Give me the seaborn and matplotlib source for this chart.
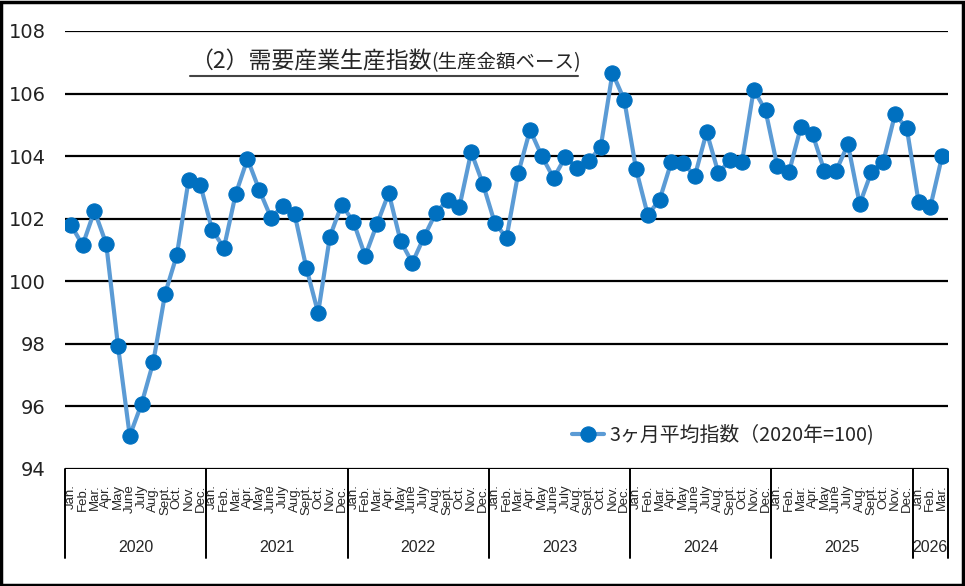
import numpy as np
import pandas as pd
import matplotlib.pyplot as plt
import seaborn as sns
from matplotlib.lines import Line2D
from matplotlib.patches import Rectangle
import matplotlib.transforms as mtransforms

months = ["Jan.", "Feb.", "Mar.", "Apr.", "May", "June", "July", "Aug.",
          "Sept.", "Oct.", "Nov.", "Dec."]
years = ["2020", "2021", "2022", "2023", "2024", "2025", "2026"]
months_per_year = [12, 12, 12, 12, 12, 12, 3]

values = [
    101.8, 101.16, 102.25, 101.2, 97.94, 95.06, 96.08, 97.42, 99.6, 100.84, 103.24, 103.08,
    101.64, 101.07, 102.79, 103.91, 102.92, 102.03, 102.41, 102.15, 100.43, 98.99, 101.43, 102.45,
    101.9, 100.81, 101.83, 102.82, 101.29, 100.59, 101.42, 102.19, 102.6, 102.38, 104.13, 103.11,
    101.87, 101.39, 103.46, 104.84, 104.0, 103.3, 103.97, 103.62, 103.85, 104.29, 106.66, 105.8,
    103.59, 102.12, 102.6, 103.81, 103.78, 103.37, 104.77, 103.46, 103.88, 103.81, 106.13, 105.46,
    103.68, 103.49, 104.93, 104.7, 103.53, 103.53, 104.38, 102.47, 103.5, 103.82, 105.34, 104.89,
    102.54, 102.38, 104.0,
]

title_main = "（2）需要産業生産指数"
title_sub = "(生産金額ベース)"
legend_label = "3ヶ月平均指数（2020年=100)"

month_labels = []
for n in months_per_year:
    month_labels += months[:n]

df = pd.DataFrame({"idx": np.arange(len(values)), "value": values})

sns.set_style("white")
plt.rcParams["font.family"] = ["Noto Sans CJK JP", "DejaVu Sans"]
narrow = ["Liberation Sans Narrow", "Liberation Sans"]

W, H = 965, 586
fig = plt.figure(figsize=(W / 100, H / 100), dpi=100)
L, R, T, B = 65, 948, 31, 469
ax = fig.add_axes([L / W, 1 - B / H, (R - L) / W, (B - T) / H])

sns.lineplot(data=df, x="idx", y="value", ax=ax, color="#5B9BD5", linewidth=3,
             marker="o", markersize=11, markerfacecolor="#0070C0",
             markeredgecolor="#0070C0", label=legend_label)

ax.set_xlim(-0.5, len(values) - 0.5)
ax.set_ylim(94, 108)
ax.set_yticks(np.arange(94, 109, 2))
ax.yaxis.grid(True, color="black", linewidth=1.6)
ax.set_axisbelow(True)
for s in ax.spines.values():
    s.set_visible(False)
ax.tick_params(axis="y", length=0, pad=14, labelsize=14, labelcolor="#222222",
               labelfontfamily="Liberation Sans Narrow")
ax.set_xlabel("")
ax.set_ylabel("")

ax.set_xticks(df["idx"])
ax.set_xticklabels(month_labels, rotation=90, fontsize=9.5, family=narrow)
ax.tick_params(axis="x", length=0, pad=11)

# category box under the plot
trans = mtransforms.blended_transform_factory(ax.transData, ax.transAxes)
box_bottom = -(558 - B) / (B - T)
bounds = [-0.5]
for n in months_per_year:
    bounds.append(bounds[-1] + n)
for b in bounds:
    ax.add_line(Line2D([b, b], [0, box_bottom], transform=trans, color="black",
                       linewidth=1.4, clip_on=False))
for i, y in enumerate(years):
    ax.text((bounds[i] + bounds[i + 1]) / 2, -(548 - B) / (B - T), y, transform=trans,
            ha="center", va="center", fontsize=11.5, family=narrow)

leg = ax.legend(loc="center left", bbox_to_anchor=(564 / W, 1 - 435 / H),
                bbox_transform=fig.transFigure, frameon=False, fontsize=14.3,
                handlelength=1.6, handletextpad=0.3, borderaxespad=0)

# title with underline
t1 = fig.text(190 / W, 1 - 62 / H, title_main, fontsize=16.5, va="center", ha="left")
fig.canvas.draw()
bb = t1.get_window_extent()
fig.text(bb.x1 / W, 1 - 63 / H, title_sub, fontsize=14, va="center", ha="left")
fig.add_artist(Line2D([190 / W, 578 / W], [1 - 76 / H, 1 - 76 / H],
                      transform=fig.transFigure, color="#444444", linewidth=1.5))

fig.add_artist(Rectangle((0.001, 0.002), 0.997, 0.995, transform=fig.transFigure,
                         fill=False, edgecolor="black", linewidth=2.5))

fig.savefig("out.png", dpi=100)
